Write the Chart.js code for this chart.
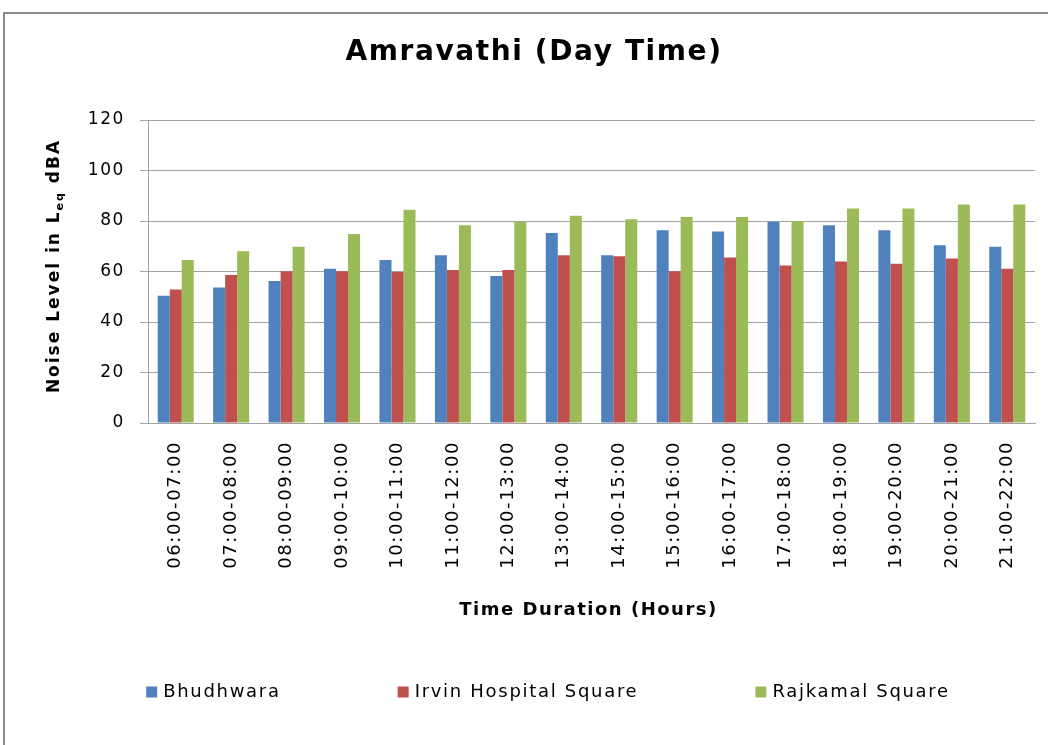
<!DOCTYPE html>
<html>
<head>
<meta charset="utf-8">
<title>Amravathi (Day Time)</title>
<script src="https://cdn.jsdelivr.net/npm/chart.js@4.4.1/dist/chart.umd.min.js"></script>
<style>
  html, body { margin: 0; padding: 0; background: #fff; overflow: hidden; }
  #frame {
    position: absolute; left: 3px; top: 12px;
    width: 1100px; height: 800px;
    border: 2px solid #8a8a8a; box-sizing: border-box;
  }
  #wrap { position: absolute; left: 0; top: 0; width: 1048px; height: 745px; }
</style>
</head>
<body>
<div id="frame"></div>
<div id="wrap"><canvas id="chart"></canvas></div>
<script>
// Hour slots (x categories)
const categories = [
  '06:00-07:00', '07:00-08:00', '08:00-09:00', '09:00-10:00',
  '10:00-11:00', '11:00-12:00', '12:00-13:00', '13:00-14:00',
  '14:00-15:00', '15:00-16:00', '16:00-17:00', '17:00-18:00',
  '18:00-19:00', '19:00-20:00', '20:00-21:00', '21:00-22:00'
];

// Leq dBA per location
const bhudhwara = [50.4, 53.7, 56.2, 61.1, 64.6, 66.4, 58.2, 75.2, 66.4, 76.3, 75.8, 79.7, 78.3, 76.3, 70.4, 69.8];
const irvinHospital = [52.9, 58.6, 60.1, 60.1, 59.8, 60.6, 60.6, 66.4, 66.0, 60.1, 65.5, 62.4, 64.0, 63.1, 65.1, 61.1];
const rajkamal = [64.6, 68.0, 69.8, 74.9, 84.5, 78.3, 79.7, 82.1, 80.7, 81.6, 81.6, 80.0, 85.0, 85.0, 86.5, 86.5];

const seriesNames = ['Bhudhwara', 'Irvin Hospital Square', 'Rajkamal Square'];
const seriesColors = ['#4F81BD', '#C0504D', '#9BBB59'];

// y axis range / step
const yMin = 0;
const yMax = 120;
const yStep = 20;

const FONT = '"DejaVu Sans", Verdana, sans-serif';
const GRID = '#a3a3a3';

// Titles + legend drawn by hand (subscript in y title, spread-out legend)
const textPlugin = {
  id: 'textPlugin',
  beforeDraw(chart) {
    chart.ctx.letterSpacing = '1.6px';
  },
  afterDraw(chart) {
    const ctx = chart.ctx;
    const area = chart.chartArea;

    ctx.save();
    ctx.fillStyle = '#000';
    ctx.textBaseline = 'middle';

    // main title
    ctx.letterSpacing = '1.6px';
    ctx.font = 'bold 28px ' + FONT;
    ctx.textAlign = 'center';
    ctx.fillText('Amravathi (Day Time)', 534, 53);

    // x axis title
    ctx.letterSpacing = '1.5px';
    ctx.font = 'bold 18px ' + FONT;
    ctx.fillText('Time Duration (Hours)', (area.left + area.right) / 2 - 3, 610);

    // y axis title with subscript
    ctx.letterSpacing = '2px';
    ctx.textAlign = 'left';
    const parts = [
      { t: 'Noise Level in L', f: 'bold 17px ' + FONT, dy: 0 },
      { t: 'eq', f: 'bold 11px ' + FONT, dy: 5 },
      { t: ' dBA', f: 'bold 17px ' + FONT, dy: 0 }
    ];
    let total = 0;
    parts.forEach(p => { ctx.font = p.f; p.w = ctx.measureText(p.t).width; total += p.w; });
    ctx.translate(55, 266);
    ctx.rotate(-Math.PI / 2);
    let x = -total / 2;
    parts.forEach(p => {
      ctx.font = p.f;
      ctx.fillText(p.t, x, p.dy);
      x += p.w;
    });
    ctx.restore();

    // legend
    ctx.save();
    ctx.letterSpacing = '1.7px';
    ctx.font = '18px ' + FONT;
    ctx.textBaseline = 'middle';
    ctx.textAlign = 'left';
    const box = 11, gapText = 6, gapItem = 117;
    const items = chart.data.datasets.map(ds => ({
      label: ds.label, color: ds.backgroundColor, w: ctx.measureText(ds.label).width
    }));
    const legendWidth = items.reduce((s, it) => s + box + gapText + it.w, 0) + gapItem * (items.length - 1);
    let lx = 548 - legendWidth / 2;
    const ly = 692;
    items.forEach(it => {
      ctx.fillStyle = it.color;
      ctx.fillRect(lx, ly - box / 2, box, box);
      ctx.fillStyle = '#000';
      ctx.fillText(it.label, lx + box + gapText, ly);
      lx += box + gapText + it.w + gapItem;
    });
    ctx.restore();
  }
};

const values = [bhudhwara, irvinHospital, rajkamal];

new Chart(document.getElementById('chart'), {
  type: 'bar',
  data: {
    labels: categories,
    datasets: values.map((data, i) => ({
      label: seriesNames[i],
      data,
      backgroundColor: seriesColors[i],
      borderWidth: 0,
      barPercentage: 1,
      categoryPercentage: 0.65
    }))
  },
  options: {
    responsive: true,
    maintainAspectRatio: false,
    animation: false,
    layout: { padding: { left: 0, right: 13, top: 120, bottom: 0 } },
    plugins: {
      legend: { display: false },
      title: { display: false },
      tooltip: { enabled: false }
    },
    scales: {
      x: {
        grid: { display: false, drawTicks: false },
        border: { display: true, color: GRID, width: 1 },
        ticks: {
          autoSkip: false,
          minRotation: 90,
          maxRotation: 90,
          padding: 18,
          color: '#000',
          font: { family: FONT, size: 18 }
        },
        afterFit: (scale) => { scale.height = 322; }
      },
      y: {
        min: yMin,
        max: yMax,
        ticks: {
          stepSize: yStep,
          padding: 15,
          color: '#000',
          font: { family: FONT, size: 17 }
        },
        grid: { color: GRID, lineWidth: 1, tickLength: 8, drawTicks: true },
        border: { display: true, color: GRID, width: 1 },
        afterFit: (scale) => { scale.width = 148; }
      }
    }
  },
  plugins: [textPlugin]
});
</script>
</body>
</html>
